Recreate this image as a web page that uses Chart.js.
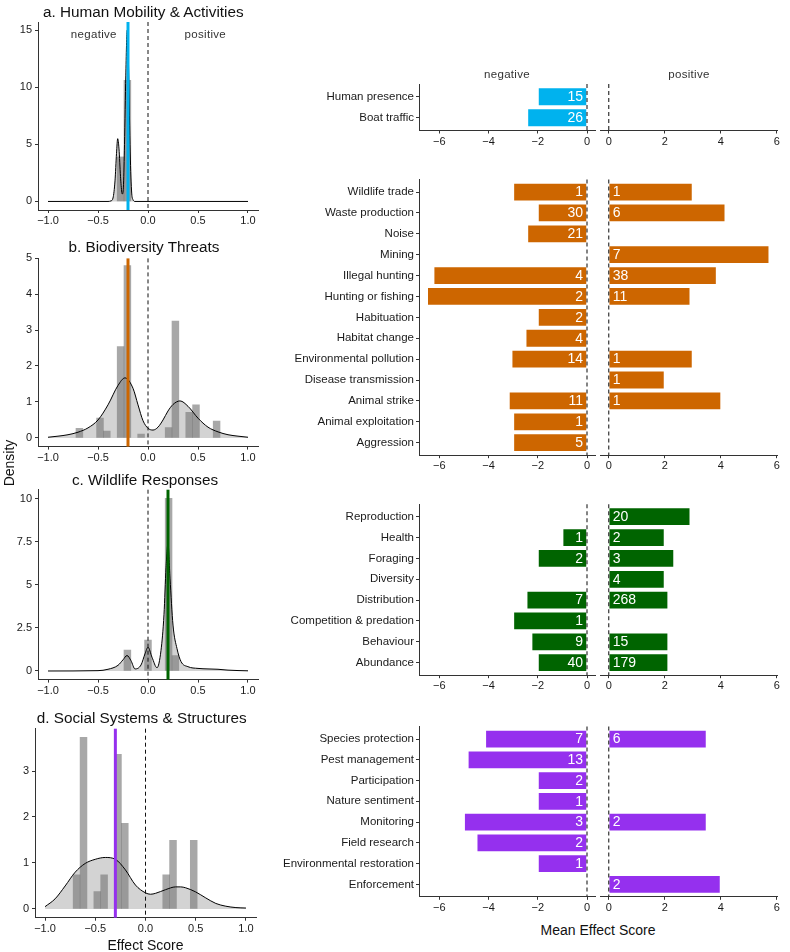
<!DOCTYPE html>
<html>
<head>
<meta charset="utf-8">
<script src="https://cdn.jsdelivr.net/npm/chart.js@4.4.1/dist/chart.umd.min.js"></script>
<style>
  body { margin: 0; background: #fff; }
  #fig { position: relative; width: 790px; height: 952px; overflow: hidden; font-family: "Liberation Sans", Arial, sans-serif; color: #111; }
  #fig canvas { position: absolute; }
  .lbl { position: absolute; white-space: nowrap; transform: translate(-50%, -50%); line-height: 1; }
  .title { font-size: 15.3px; }
  .side { font-size: 11.5px; color: #333; letter-spacing: 0.3px; }
  .axt { font-size: 14px; }
</style>
</head>
<body>
<div id="fig"></div>
<script>
// ---- left column: histogram + density of effect scores ----
const xTicks = [-1, -0.5, 0, 0.5, 1];

// a. Human Mobility & Activities
const binsA = [-0.274, -0.206];
const histA = [3.9, 10.6];
const densXA = [-1.0, -0.40, -0.37, -0.35, -0.33, -0.315, -0.303, -0.29, -0.275, -0.262, -0.255, -0.245, -0.235, -0.222, -0.208, -0.195, -0.18, -0.165, -0.15, -0.13, 1.0];
const densYA = [0, 0, 0.05, 0.3, 1.8, 4.2, 5.5, 4.6, 2.2, 0.8, 0.65, 1.5, 5.0, 11.0, 15.0, 12.0, 5.0, 1.0, 0.15, 0, 0];
const yTicksA = [0, 5, 10, 15];
const meanA = -0.2;

// b. Biodiversity Threats
const binsB = [-0.686, -0.48, -0.412, -0.274, -0.206, -0.069, 0.206, 0.274, 0.412, 0.48, 0.686];
const histB = [0.27, 0.55, 0.19, 2.54, 4.79, 0.11, 0.29, 3.25, 0.71, 0.92, 0.47];
const densXB = [-1.0, -0.9, -0.8, -0.7, -0.6, -0.5, -0.4, -0.3, -0.23, -0.15, -0.1, -0.05, 0.0, 0.05, 0.1, 0.15, 0.2, 0.25, 0.32, 0.4, 0.5, 0.6, 0.7, 0.8, 0.9, 1.0];
const densYB = [0.02, 0.05, 0.09, 0.16, 0.28, 0.5, 0.92, 1.46, 1.67, 1.38, 0.92, 0.48, 0.27, 0.22, 0.3, 0.5, 0.75, 0.93, 1.03, 0.88, 0.55, 0.3, 0.17, 0.09, 0.05, 0.02];
const yTicksB = [0, 1, 2, 3, 4, 5];
const meanB = -0.2;

// c. Wildlife Responses
const binsC = [-0.206, 0.0, 0.206, 0.274];
const histC = [1.22, 1.8, 10.04, 0.89];
const densXC = [-1.0, -0.5, -0.4, -0.3, -0.25, -0.21, -0.17, -0.13, -0.07, -0.03, 0.0, 0.04, 0.09, 0.13, 0.16, 0.18, 0.2, 0.22, 0.25, 0.29, 0.33, 0.4, 0.5, 0.6, 0.7, 0.8, 1.0];
const densYC = [0, 0.02, 0.1, 0.33, 0.65, 0.9, 0.6, 0.12, 0.35, 1.0, 1.38, 0.8, 0.19, 1.2, 3.3, 6.0, 7.4, 5.4, 2.67, 1.3, 0.55, 0.25, 0.15, 0.12, 0.1, 0.05, 0.01];
const yTicksC = [0, 2.5, 5, 7.5, 10];
const meanC = 0.2;

// d. Social Systems & Structures
const binsD = [-0.686, -0.617, -0.48, -0.412, -0.274, -0.206, 0.206, 0.274, 0.48];
const histD = [0.74, 3.73, 0.38, 0.74, 3.36, 1.86, 0.74, 1.49, 1.49];
const densXD = [-1.0, -0.9, -0.8, -0.7, -0.6, -0.5, -0.4, -0.3, -0.2, -0.1, 0.0, 0.05, 0.1, 0.2, 0.3, 0.35, 0.4, 0.5, 0.6, 0.7, 0.8, 0.9, 1.0];
const densYD = [0.05, 0.22, 0.5, 0.8, 0.99, 1.08, 1.12, 1.08, 0.85, 0.52, 0.35, 0.32, 0.34, 0.42, 0.48, 0.48, 0.46, 0.37, 0.24, 0.12, 0.06, 0.03, 0.02];
const yTicksD = [0, 1, 2, 3];
const meanD = -0.3;

// ---- right column: mean effect score per category ----
const negTicks = [-6, -4, -2, 0];
const posTicks = [0, 2, 4, 6];

const catsA = ['Human presence', 'Boat traffic'];
const negA = [-2.0, -2.43];
const negNA = [15, 26];
const posA = [null, null];
const posNA = [null, null];

const catsB = ['Wildlife trade', 'Waste production', 'Noise', 'Mining', 'Illegal hunting', 'Hunting or fishing', 'Habituation', 'Habitat change', 'Environmental pollution', 'Disease transmission', 'Animal strike', 'Animal exploitation', 'Aggression'];
const negB = [-3.0, -2.0, -2.43, null, -6.24, -6.5, -2.0, -2.5, -3.07, null, -3.18, -3.0, -3.0];
const negNB = [1, 30, 21, null, 4, 2, 2, 4, 14, null, 11, 1, 5];
const posB = [3.0, 4.17, null, 5.74, 3.86, 2.92, null, null, 3.0, 2.0, 4.02, null, null];
const posNB = [1, 6, null, 7, 38, 11, null, null, 1, 1, 1, null, null];

const catsC = ['Reproduction', 'Health', 'Foraging', 'Diversity', 'Distribution', 'Competition & predation', 'Behaviour', 'Abundance'];
const negC = [null, -1.0, -2.0, null, -2.46, -3.0, -2.26, -2.0];
const negNC = [null, 1, 2, null, 7, 1, 9, 40];
const posC = [2.92, 2.0, 2.34, 2.0, 2.13, null, 2.13, 2.13];
const posNC = [20, 2, 3, 4, 268, null, 15, 179];

const catsD = ['Species protection', 'Pest management', 'Participation', 'Nature sentiment', 'Monitoring', 'Field research', 'Environmental restoration', 'Enforcement'];
const negD = [-4.14, -4.85, -2.0, -2.0, -5.0, -4.49, -2.0, null];
const negND = [7, 13, 2, 1, 3, 2, 1, null];
const posD = [3.5, null, null, null, 3.5, null, null, 4.0];
const posND = [6, null, null, null, 2, null, null, 2];

const BLUE = '#00B2EE', ORANGE = '#CD6600', GREEN = '#006400', PURPLE = '#9530EE';
const FONT = '"Liberation Sans", Arial, sans-serif';
const INK = '#1a1a1a';
const AXIS = '#333';

Chart.defaults.font.family = FONT;
Chart.defaults.color = INK;
Chart.defaults.animation = false;

const fig = document.getElementById('fig');
const minus = s => String(s).replace('-', '\u2212');

function label(text, x, y, cls, rot) {
  const d = document.createElement('div');
  d.className = 'lbl ' + cls;
  d.textContent = text;
  d.style.left = x + 'px';
  d.style.top = y + 'px';
  if (rot) d.style.transform = 'translate(-50%, -50%) rotate(' + rot + 'deg)';
  fig.appendChild(d);
}

// canvas placed so the chart area lands on `area` (page px), with `room` kept round it
function canvasFor(area, room) {
  const c = document.createElement('canvas');
  const x0 = Math.floor(area.l - room.l), y0 = Math.floor(area.t - room.t);
  const x1 = Math.ceil(area.r + room.r), y1 = Math.ceil(area.b + room.b);
  c.width = x1 - x0; c.height = y1 - y0;
  c.style.left = x0 + 'px'; c.style.top = y0 + 'px';
  c.style.width = c.width + 'px'; c.style.height = c.height + 'px';
  fig.appendChild(c);
  return { c, pad: { left: area.l - x0, top: area.t - y0, right: x1 - area.r, bottom: y1 - area.b } };
}

const vlines = {
  id: 'vlines',
  afterDatasetsDraw(chart, args, opts) {
    const { ctx, chartArea: a, scales: { x } } = chart;
    ctx.save();
    (opts.lines || []).forEach(l => {
      const px = x.getPixelForValue(l.value);
      ctx.beginPath();
      ctx.strokeStyle = l.color;
      ctx.lineWidth = l.width;
      ctx.setLineDash(l.dash || []);
      ctx.moveTo(px, a.top);
      ctx.lineTo(px, a.bottom);
      ctx.stroke();
    });
    ctx.restore();
  }
};

const counts = {
  id: 'counts',
  afterDatasetsDraw(chart, args, opts) {
    if (!opts.side) return;
    const ctx = chart.ctx;
    const ds = chart.data.datasets[0];
    const meta = chart.getDatasetMeta(0);
    ctx.save();
    ctx.font = '14px ' + FONT;
    ctx.fillStyle = '#fff';
    ctx.textBaseline = 'middle';
    ctx.textAlign = opts.side < 0 ? 'right' : 'left';
    meta.data.forEach((bar, i) => {
      ctx.fillText(String(ds.data[i].n), bar.base + opts.side * 3.5, bar.y + 0.5);
    });
    ctx.restore();
  }
};

function axisGrid() {
  return { display: true, drawOnChartArea: false, drawTicks: true, tickLength: 3, tickColor: AXIS, tickWidth: 1, offset: false };
}

function densityPanel(p) {
  const { c, pad } = canvasFor(p.area, { l: p.area.l, t: 10, r: 14, b: 22 });
  new Chart(c, {
    type: 'bar',
    data: {
      datasets: [
        { type: 'bar', data: p.bins.map((b, i) => ({ x: b, y: p.hist[i] })), backgroundColor: 'rgba(110,110,110,0.6)', borderWidth: 0, barPercentage: 1, categoryPercentage: 1, order: 2 },
        { type: 'line', data: p.dx.map((x, i) => ({ x: x, y: p.dy[i] })), borderColor: '#000', borderWidth: 1, pointRadius: 0, fill: 'origin', backgroundColor: 'rgba(120,120,120,0.33)', cubicInterpolationMode: 'monotone', order: 1 }
      ]
    },
    options: {
      responsive: false, animation: false, devicePixelRatio: 1,
      layout: { padding: { top: pad.top, right: pad.right, left: 0, bottom: 0 }, autoPadding: false },
      plugins: {
        legend: { display: false }, tooltip: { enabled: false },
        vlines: { lines: [
          { value: p.mean, color: p.color, width: 3 },
          { value: 0, color: '#111', width: 1, dash: [4, 3] }
        ] }
      },
      scales: {
        x: {
          type: 'linear', min: -1.1, max: 1.1, offset: false,
          grid: axisGrid(), border: { display: true, color: AXIS, width: 1 },
          ticks: { padding: 1.5, font: { size: 11 }, color: INK, maxRotation: 0, autoSkip: false, callback: v => minus(v.toFixed(1)) },
          afterBuildTicks: s => { s.ticks = xTicks.map(v => ({ value: v })); },
          afterFit: s => { s.height = pad.bottom; s.paddingLeft = 0; s.paddingRight = 0; }
        },
        y: {
          type: 'linear', min: p.ymin, max: p.ymax,
          grid: axisGrid(), border: { display: true, color: AXIS, width: 1 },
          ticks: { padding: 3, font: { size: 11 }, color: INK, autoSkip: false, callback: v => String(v) },
          afterBuildTicks: s => { s.ticks = p.yticks.map(v => ({ value: v })); },
          afterFit: s => { s.width = pad.left; s.paddingTop = 0; s.paddingBottom = 0; }
        }
      }
    },
    plugins: [vlines]
  });
  label(p.title, p.titleAt[0], p.titleAt[1], 'title');
}

function barPanel(p, side) {
  const area = side < 0 ? { l: 419, r: 595, t: p.t, b: p.b } : { l: 600.7, r: 777.6, t: p.t, b: p.b };
  const room = side < 0 ? { l: 149, t: 8, r: 4, b: 22 } : { l: 4, t: 8, r: 12, b: 22 };
  const { c, pad } = canvasFor(area, room);
  const vals = side < 0 ? p.neg : p.pos;
  const ns = side < 0 ? p.negN : p.posN;
  const data = [];
  vals.forEach((v, i) => { if (v !== null) data.push({ x: v, y: i + 1, n: ns[i] }); });
  new Chart(c, {
    type: 'bar',
    data: { datasets: [{ data: data, backgroundColor: p.color, borderColor: 'rgba(255,255,255,0.55)', borderWidth: 1, borderSkipped: 'start', barPercentage: 0.9, categoryPercentage: 1 }] },
    options: {
      indexAxis: 'y',
      responsive: false, animation: false, devicePixelRatio: 1,
      layout: { padding: { top: pad.top, right: pad.right, left: 0, bottom: 0 }, autoPadding: false },
      plugins: {
        legend: { display: false }, tooltip: { enabled: false },
        counts: { side: side },
        vlines: { lines: [{ value: 0, color: AXIS, width: 1.2, dash: [4, 3] }] }
      },
      scales: {
        x: {
          type: 'linear', min: side < 0 ? -6.825 : -0.287, max: side < 0 ? 0.325 : 6.03, offset: false,
          grid: axisGrid(), border: { display: true, color: AXIS, width: 1 },
          ticks: { padding: 1.5, font: { size: 11 }, color: INK, maxRotation: 0, autoSkip: false, callback: v => minus(v) },
          afterBuildTicks: s => { s.ticks = (side < 0 ? negTicks : posTicks).map(v => ({ value: v })); },
          afterFit: s => { s.height = pad.bottom; s.paddingLeft = 0; s.paddingRight = 0; }
        },
        y: {
          type: 'linear', reverse: true, min: 0.4, max: p.cats.length + 0.6, offset: false,
          grid: side < 0 ? axisGrid() : { display: false },
          border: { display: side < 0, color: AXIS, width: 1 },
          ticks: { display: side < 0, padding: 2, font: { size: 11.5 }, color: INK, autoSkip: false, callback: v => p.cats[v - 1] },
          afterBuildTicks: s => { s.ticks = p.cats.map((_, i) => ({ value: i + 1 })); },
          afterFit: s => { s.width = pad.left; s.paddingTop = 0; s.paddingBottom = 0; }
        }
      }
    },
    plugins: [counts, vlines]
  });
}

densityPanel({ area: { l: 38, t: 22, r: 258, b: 210 }, ymin: -0.75, ymax: 15.72, yticks: yTicksA, bins: binsA, hist: histA, dx: densXA, dy: densYA, mean: meanA, color: BLUE, title: 'a. Human Mobility & Activities', titleAt: [143.3, 12] });
densityPanel({ area: { l: 38, t: 258.4, r: 258, b: 446.6 }, ymin: -0.24, ymax: 4.99, yticks: yTicksB, bins: binsB, hist: histB, dx: densXB, dy: densYB, mean: meanB, color: ORANGE, title: 'b. Biodiversity Threats', titleAt: [144, 246.7] });
densityPanel({ area: { l: 38, t: 489.7, r: 258, b: 679.6 }, ymin: -0.5, ymax: 10.54, yticks: yTicksC, bins: binsC, hist: histC, dx: densXC, dy: densYC, mean: meanC, color: GREEN, title: 'c. Wildlife Responses', titleAt: [145, 480] });
densityPanel({ area: { l: 35, t: 728.7, r: 256, b: 917.7 }, ymin: -0.19, ymax: 3.92, yticks: yTicksD, bins: binsD, hist: histD, dx: densXD, dy: densYD, mean: meanD, color: PURPLE, title: 'd. Social Systems & Structures', titleAt: [141.7, 718.3] });

const rows = [
  { t: 84, b: 130.5, cats: catsA, neg: negA, negN: negNA, pos: posA, posN: posNA, color: BLUE },
  { t: 179.5, b: 455.2, cats: catsB, neg: negB, negN: negNB, pos: posB, posN: posNB, color: ORANGE },
  { t: 504.2, b: 675.2, cats: catsC, neg: negC, negN: negNC, pos: posC, posN: posNC, color: GREEN },
  { t: 726.6, b: 896.8, cats: catsD, neg: negD, negN: negND, pos: posD, posN: posND, color: PURPLE }
];
rows.forEach(r => { barPanel(r, -1); barPanel(r, 1); });

label('negative', 93.8, 35, 'side');
label('positive', 205.3, 35, 'side');
label('negative', 507, 75, 'side');
label('positive', 689, 75, 'side');
label('Density', 9, 463, 'axt', -90);
label('Effect Score', 145.5, 945, 'axt');
label('Mean Effect Score', 598, 930, 'axt');
</script>
</body>
</html>
